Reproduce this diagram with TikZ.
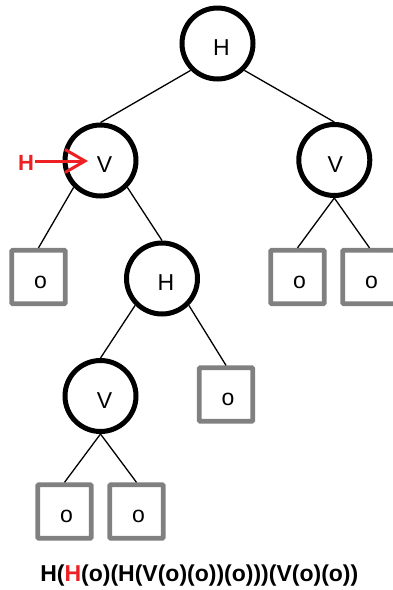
\documentclass[tikz,border=0pt]{standalone}
\usepackage{fontspec}
\setmainfont{Liberation Sans}
\usetikzlibrary{arrows.meta}
\definecolor{leafgray}{HTML}{808080}
\definecolor{markred}{HTML}{ED2024}
\begin{document}
\begin{tikzpicture}[x=1pt,y=-1pt,
  every node/.style={font=\fontsize{23}{27}\selectfont},
  circ/.style={circle,draw=black,line width=5pt,minimum size=71pt,inner sep=0pt},
  leaf/.style={rectangle,draw=leafgray,line width=4.8pt,minimum size=53.5pt,inner sep=0pt,rounded corners=1pt},
  ctext/.style={label={[xshift=4pt,yshift=-4.5pt]center:#1}},
  ltext/.style={label={[xshift=2pt,yshift=-5pt]center:#1}},
  edge/.style={draw=black,line width=1.3pt}]
\useasboundingbox (0,0) rectangle (392,590);
\node[circ,ctext=H] (h1) at (217.5,43.5) {};
\node[circ,ctext=V] (v1) at (100.5,160.5) {};
\node[circ,label={[xshift=1pt,yshift=-5pt]center:V}] (v2) at (334.3,160) {};
\node[leaf,ltext=o] (o1) at (38.5,277) {};
\node[circ,ctext=H] (h2) at (162,278.5) {};
\node[leaf,ltext=o] (o2) at (297.5,277) {};
\node[leaf,ltext=o] (o3) at (369.5,277) {};
\node[circ,ctext=V] (v3) at (100.5,396) {};
\node[leaf,ltext=o] (o4) at (226,394.5) {};
\node[leaf,ltext=o] (o5) at (64.5,511.5) {};
\node[leaf,ltext=o] (o6) at (136.5,511.5) {};
\draw[edge] (h1.south west) -- (v1.north);
\draw[edge] (h1.south east) -- (v2.north);
\draw[edge] (v1.south west) -- (o1.north);
\draw[edge] (v1.south east) -- (h2.north);
\draw[edge] (v2.south) -- (o2.north);
\draw[edge] (v2.south) -- (o3.north);
\draw[edge] (h2.south west) -- (v3.north);
\draw[edge] (h2.south east) -- (o4.north);
\draw[edge] (v3.south) -- (o5.north);
\draw[edge] (v3.south) -- (o6.north);
\node[text=markred,font=\fontsize{22}{26}\selectfont\bfseries] (mark) at (26,163) {H};
\coordinate (arrS) at (35,161);
\coordinate (arrE) at (88,161);
\draw[markred,line width=3pt,-{Straight Barb[length=20pt,width=23pt]}] (arrS) -- (arrE);
\node[anchor=base,font=\fontsize{23}{27}\selectfont\bfseries] (expr) at (199.3,581) {H(\textcolor{markred}{H}(o)(H(V(o)(o))(o)))(V(o)(o))};
\end{tikzpicture}
\end{document}
